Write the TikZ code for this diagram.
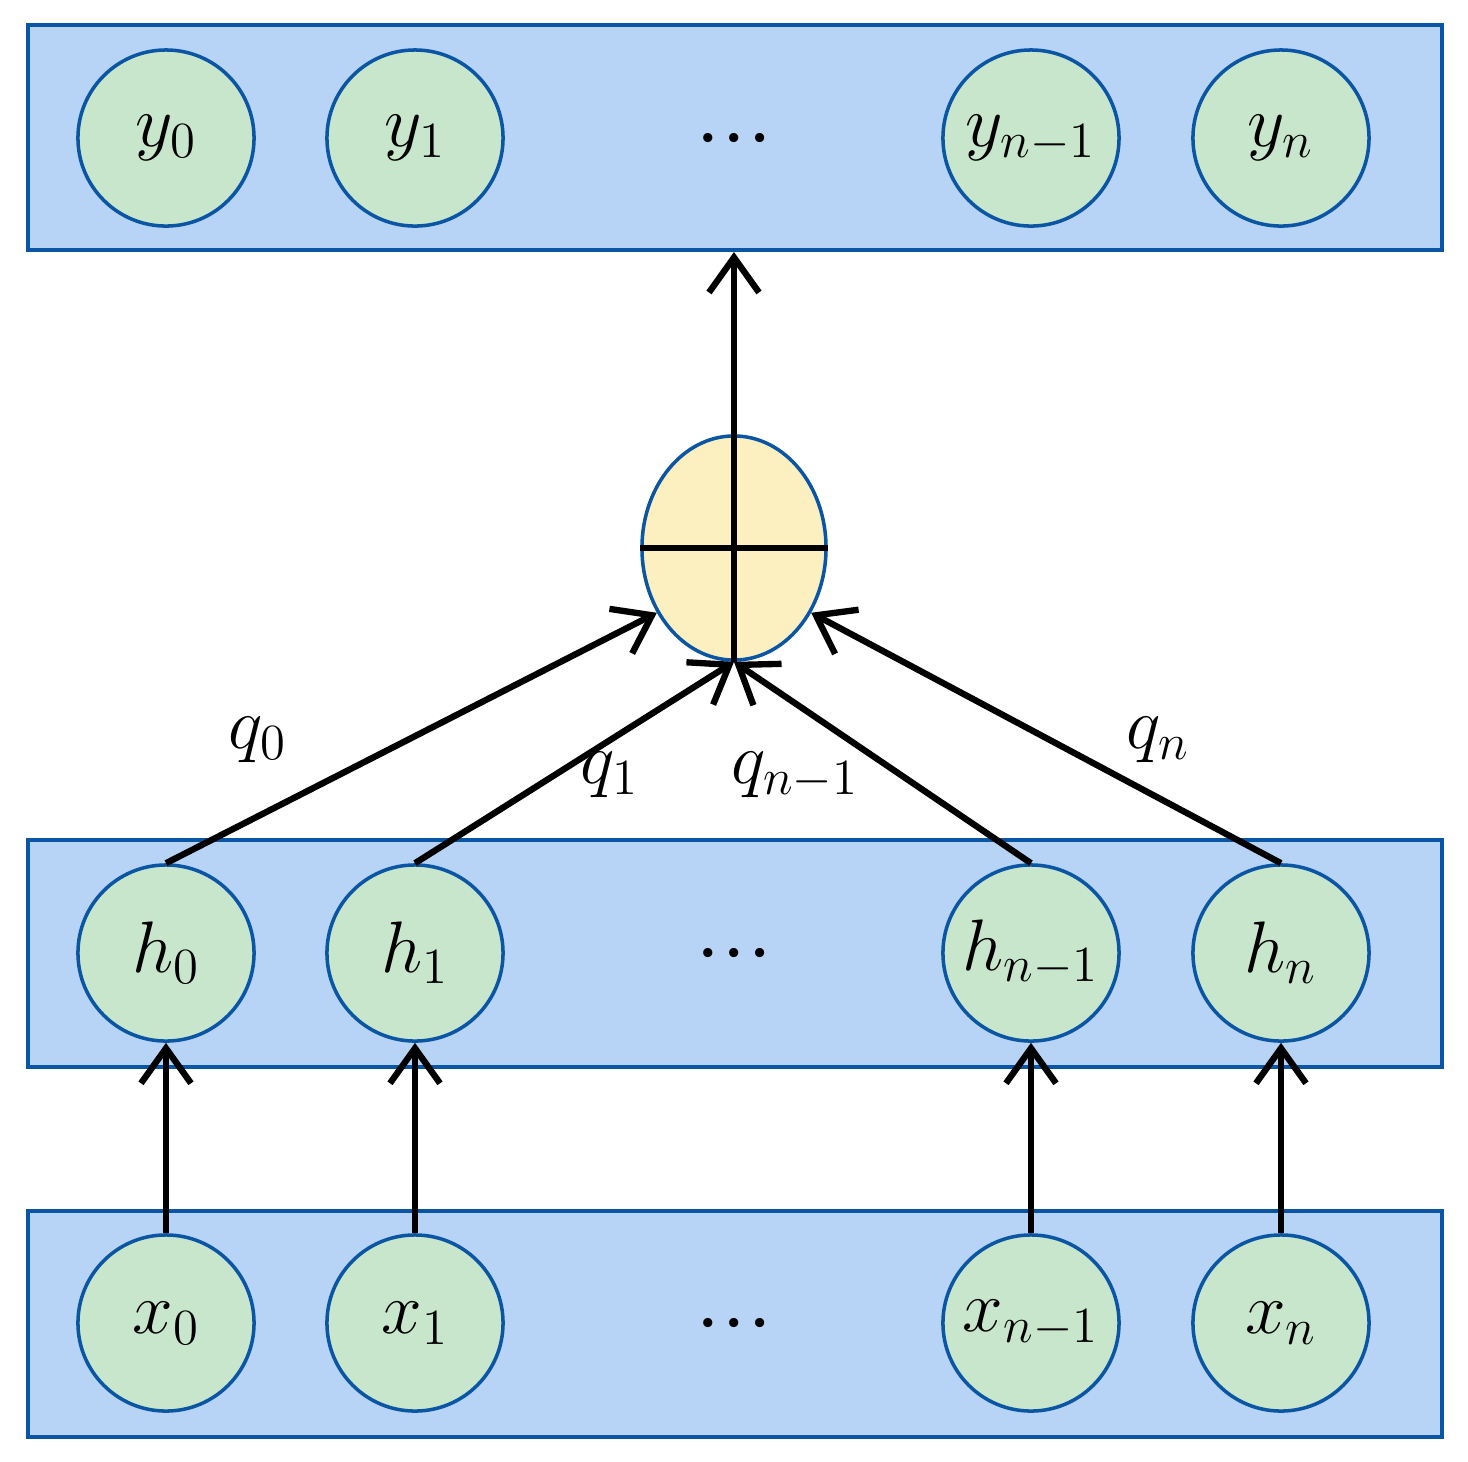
\documentclass[tikz,border=0pt]{standalone}
\usepackage{fontspec}
\setmainfont{Liberation Serif}
\usetikzlibrary{arrows.meta,positioning,shapes.geometric}
\definecolor{layerfill}{HTML}{B7D3F5}
\definecolor{layerdraw}{HTML}{0B55A5}
\definecolor{unitfill}{HTML}{C8E6CB}
\definecolor{sumfill}{HTML}{FDF0C0}
\begin{document}
\begin{tikzpicture}[x=0.01cm,y=-0.01cm,
    layer/.style={draw=layerdraw, fill=layerfill, line width=1pt},
    unit/.style={circle, draw=layerdraw, fill=unitfill, line width=1pt,
        minimum size=1.76cm, inner sep=0pt, font=\fontsize{22}{26}\selectfont},
    dots/.style={font=\fontsize{22}{26}\selectfont},
    qlabel/.style={font=\fontsize{22}{26}\selectfont},
    link/.style={line width=1.8pt, -{Straight Barb[length=3.5mm,width=5mm,line width=1.8pt]}}
    ]
    \useasboundingbox (0,0) rectangle (1468,1462);
    
    % layers
    \draw[layer] (28,25) rectangle (1442,250);
    \draw[layer] (28,840) rectangle (1442,1067);
    \draw[layer] (28,1211) rectangle (1442,1437);
    
    % units
    \foreach \name/\y in {y/138, h/953, x/1323} {
        \node[unit] (\name0) at (166,\y) {$\name_0$};
        \node[unit] (\name1) at (415,\y) {$\name_1$};
        \node[unit] (\name m) at (1031,\y) {$\name_{n-1}$};
        \node[unit] (\name n) at (1281,\y) {$\name_n$};
        \node[dots] (\name dots) at (734,\y) {\dots};
    }
    
    % sum node
    \node[ellipse, draw=layerdraw, fill=sumfill, line width=1pt,
        minimum width=1.84cm, minimum height=2.24cm] (sum) at (734,548) {};
    \draw[line width=1.8pt] (sum.west) -- (sum.east);
    \draw[line width=1.8pt] (sum.south) -- (sum.north);
    \draw[link] (sum.north) -- (734,252);
    
    % inputs
    \foreach \i in {0,1,m,n}
        \draw[link] (x\i.north) -- (h\i.south);
    
    \draw[link] (h0.north) -- (sum.-140);
    \draw[link] (h1.north) -- (sum.south);
    \draw[link] (hm.north) -- (sum.south);
    \draw[link] (hn.north) -- (sum.-40);
    
    \node[qlabel] (q0) at (258,740) {$q_0$};
    \node[qlabel] (q1) at (610,775) {$q_1$};
    \node[qlabel] (qm) at (795,775) {$q_{n-1}$};
    \node[qlabel] (qn) at (1158,740) {$q_n$};
\end{tikzpicture}
\end{document}
